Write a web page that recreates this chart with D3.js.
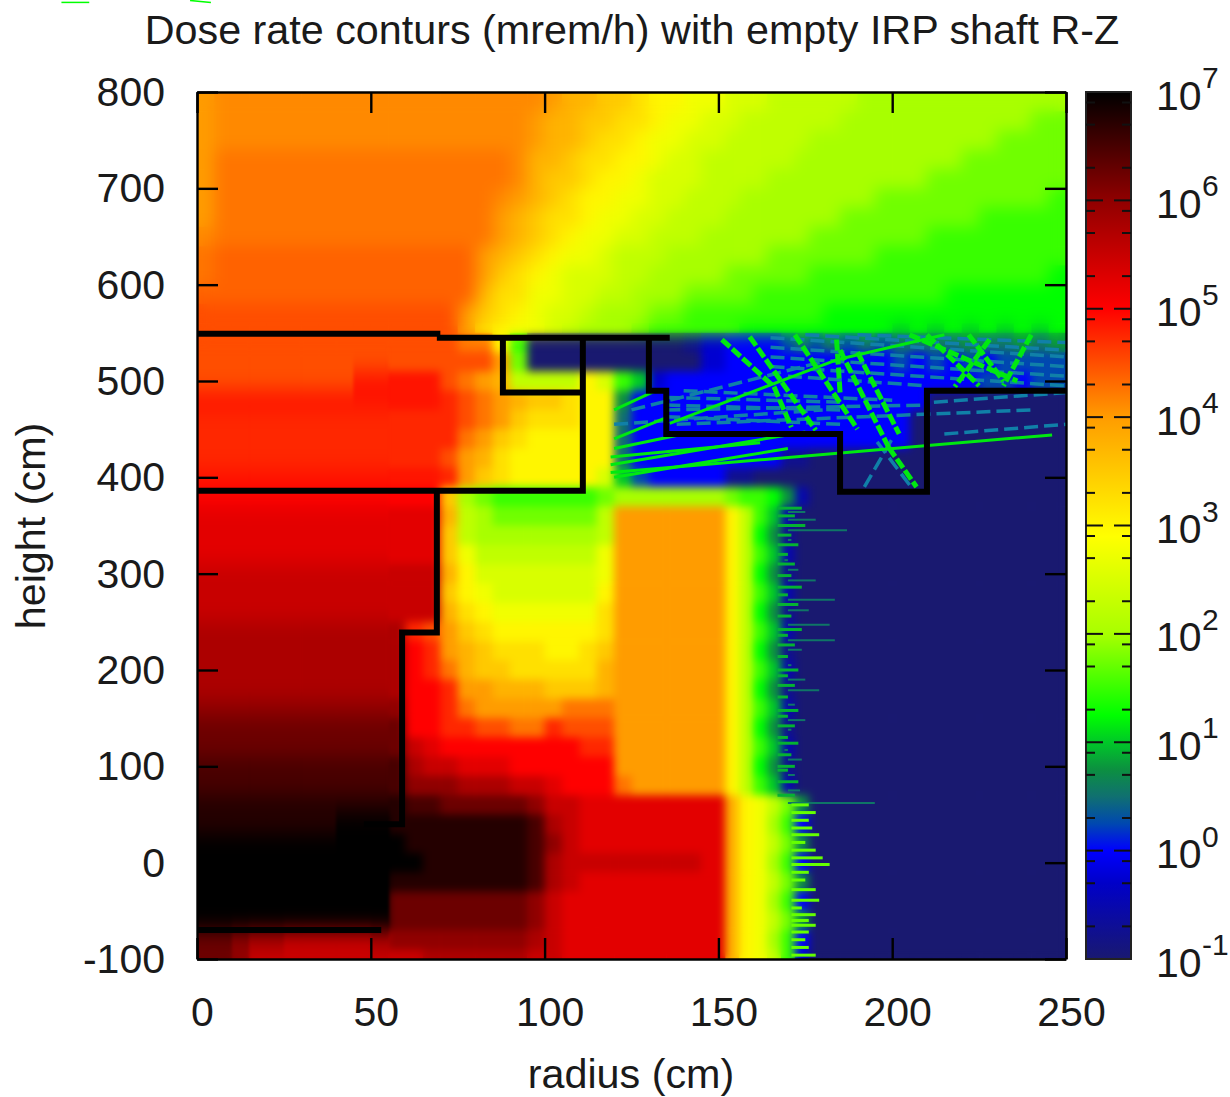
<!DOCTYPE html>
<html><head><meta charset="utf-8">
<script src="https://cdn.jsdelivr.net/npm/d3@7"></script>
<style>html,body{margin:0;padding:0;background:#fff}svg{display:block}text{font-family:"Liberation Sans",Arial,sans-serif;fill:#1a1a1a}</style>
</head><body><div id="chart"></div>
<script>
const chartTitle = "Dose rate conturs (mrem/h) with empty IRP shaft R-Z";
const xTicks = [0, 50, 100, 150, 200, 250];
const yTicks = [-100, 0, 100, 200, 300, 400, 500, 600, 700, 800];
const decadeExponents = [-1, 0, 1, 2, 3, 4, 5, 6, 7];
const minorMultipliers = [2, 5, 8];

const radiusEdges = [0,5,10,15,20,25,30,35,40,45,50,55,60,65,70,75,80,85,90,95,100,105,110,115,120,125,130,135,140,145,152,156,160,164,168,172,176,180,185,190,195,200,205,210,215,220,225,230,235,240,245,250];
const heightEdges = [800,780,760,740,720,700,680,660,640,620,600,580,560,550,530,510,490,470,450,430,410,390,370,350,330,310,290,270,250,230,210,190,170,150,130,110,90,70,50,30,10,-10,-30,-50,-70,-90,-100];

// one character per cell: position in levelCodes, a quarter of a decade per step from 10^-1; capitals add an eighth of a decade
const levelCodes = "0123456789abcdefghijklmnopqrstuvw";
const cellRows = [
"kKKKKKKKKK KKKKKKKKKK kjjiihggff eeeddddddc ccccccccccc",
"kKKKKKKKKK KKKKKKKKKk jjiihhgffe edddddddcc cccccccccbb",
"kKKKKKKKKK KKKKKKKKKk jjihhgffee ddddddcccc cccccccbbbb",
"klllllllll llllllllKj jihhggfeed dddddccccc cccccbbbbbb",
"klllllllll llllllllKj iihggfeeed dddccccccc cccbbbbbbbb",
"klllllllll lllllllKkj ihggffeedd dccccccccc bbbbbbbbbba",
"klllllllll lllllllkji hhgffeeddd ccccccccbb bbbbbbaaaaa",
"Klllllllll lllllllkji hgffeedddc ccccccbbbb bbbaaaaaaaa",
"lLLLLLLLLL LLLLLLkjih gffedddccc cccbbbbbbb aaaaaaaaaaa",
"lLLLLLLLLL LLLLLLkihg feeeddcccc bbbbbbaaaa aaaaaaaaaa9",
"LLLLLLLLLL LLLLLLjhhf feeddcccbb bbaaaaaaaa aaaa9999999",
"mmmmmmmmmm mmmmmkihgf eedcccbbaa aaaaaaa999 99999999999",
"mmmmmmmmmm mmmmmkhgff edcccbaaaa a999999999 98989898989",
"mmmmmmmmmm mmmmmllga0 0000000013 4444565656 56666766767",
"mmmmmmmmmm mmmmmmmkb0 0000000003 4444444444 45454545555",
"mmmmmmmmmN NNNNmlkjdd ddgea83444 4444444444 44444455455",
"NNNNNNNNNN NNNNnmlkji ihgg744444 4444444444 44400000000",
"nnnnnnnnnn nnnnnmlkih hhgg644444 4444444444 44000000000",
"nnnnnnnnnn nnnnnlkihg gggg644444 4444444444 44000000000",
"nnnnnnnnnn nnnnmkjhgg gggg644444 4444110000 00000000000",
"NNNNNNNNNN NNNNnkihgg ggge854444 1100000000 00000000000",
"oooooooooo ooooicbaaa aaabcccccc baa9720000 00000000000",
"pppppppppp ppppjdcbbb bbbdkkkkkk gda8200000 00000000000",
"pppppppppp ppppidcccc cccdkkkkkk gd97100000 00000000000",
"pppppppppp ppppifdddd dddfkkkkkk gda8200000 00000000000",
"qqqqqqqqqq qqqqjgeeee eeefkkkkkk gd97100000 00000000000",
"qqqqqqqqqq qqqqigfeee eeegkkkkkk gda8200000 00000000000",
"qqqqqqqqqq qqqqjhgfff fffhkkkkkk gd97100000 00000000000",
"rrrrrrrrrr rrnmkihggg ggghkkkkkk gda8200000 00000000000",
"rrrrrrrrrr rronkjihhh gghikkkkkk gd97100000 00000000000",
"rrrrrrrrrr rronljiihh hhhjkkkkkk gda8200000 00000000000",
"rrrrrrrrrr rroonkkjjj iiijkkkkkk gd97100000 00000000000",
"ssssssssss ssoonlkkkk klllkkkkkk gda8200000 00000000000",
"tttttttttt ttoonnmmll nmmmkkkkkk gd97100000 00000000000",
"tttttttttt ttqpoooooo oonnkkkkkk gda8200000 00000000000",
"uuuuuuuuuu uurqqpppoo ooookkkkkk gd97100000 00000000000",
"uuuuuuuuuu uusssrrrqq pooolkkkkk gda8200000 00000000000",
"vvvvvvvvvv vvuuttttts qqpppppppp jgfdb70000 00000000000",
"vvvvvvvvww wvvvvvvvvu rqpppppppp jgfca40000 00000000000",
"wwwwwwwwww wwvvvvvvvu sqpppppppp jgfdb70000 00000000000",
"wwwwwwwwww wwwvvvvvvu rqqqqqqqqp jgfca40000 00000000000",
"wwwwwwwwww wvvvvvvvvu rqpppppppp jgfdb70000 00000000000",
"wwwwwwwwww wtttttttts qppppppppp jgfca40000 00000000000",
"wwwwwwwwww wtttttttts qppppppppp jgfdb70000 00000000000",
"ttsrrqqqqq rssssssssr qppppppppp jgfca40000 00000000000",
"ttsqqqqqqq qqqrrrrrrq qppppppppp jgfda30000 00000000000"
];

// streaks: [r1, z1, r2, z2]
const steepRays = [[151,543,166,494],[166,494,171,452],[159,546,178,449],[184,543,185,488],[185,532,199,431],[199,431,207,390],[190,530,202,445],[228,543,218,494],[205,548,236,500],[222,548,232,500],[172,548,190,450],[240,548,232,495],[210,548,225,495]];
const thinGreenRays = [[136,456,184,522],[184,522,215,548],[119,405,246,444],[119,421,162,436],[119,413,175,447],[120,400,170,430],[120,430,140,445],[120,440,135,462],[120,470,132,490]];
const tealRays = [[135,470,210,475],[140,490,200,480],[138,455,240,470],[212,478,250,488],[192,390,200,440],[205,392,195,440],[215,445,250,455],[120,455,180,470],[125,470,180,520],[135,483,185,478],[135,475,185,470],[135,463,185,455],[165,545,250,525],[165,535,250,515],[165,525,250,505],[165,515,250,495],[170,505,210,495],[175,548,250,532],[190,548,250,540]];
const strayMarks = [[-39,893,-31,893],[-2,895,4,893]];
// jagged edge: [height, radius reached]
const tealSpikes = [[364,175],[356,178],[345,187],[335,171],[314,169],[304,173],[293,178],[273,183.5],[262,176],[247,182],[231,183.5],[221,174],[205,171],[190,175],[179,179],[164,172],[148,175],[138,171],[117,169],[107,174],[91,172],[75,173.5],[62,195]];
const edgeFringe = [[368,174],[360,172],[350,175],[340,171],[330,173],[320,170],[310,172],[298,171],[286,174],[278,170],[268,173],[256,171],[242,174],[236,170],[226,172],[214,170],[200,173],[194,170],[184,172],[172,170],[158,173],[152,170],[142,172],[130,170],[124,173],[112,171],[100,172],[96,170],[84,173],[70,172]];
const greenSpikes = [[60,176],[52,178],[44,176],[36,177],[29,179],[21,175],[13,178],[5,180],[-2,182],[-10,176],[-18,175],[-28,178],[-39,179],[-47,174],[-54,178],[-60,176],[-65,178],[-72,176],[-80,175],[-88,176],[-96,178]];

// wall outlines: [r, z] vertices
const wallTop = [[0,549],[70,549]];
const wallTop2 = [[69,545],[136,545]];
const wallInner = [[0,386],[111,386],[111,545]];
const wallPocket = [[88,545],[88,488],[111,488]];
const wallOuter = [[130,545],[130,490],[135,490],[135,445],[185,445],[185,385],[210,385],[210,490],[250,490]];
const wallCore = [[69,386],[69,239],[59,239],[59,40],[48,40]];
const wallBase = [[0,-70],[53,-70]];

const colorStops = [[-1,"#191970"],[-0.3,"#0000c8"],[0,"#0000ff"],[0.25,"#0048b0"],[0.5,"#107070"],[0.75,"#0c9040"],[1,"#00c828"],[1.25,"#00ff00"],[2,"#a8ff00"],[2.9,"#ffff00"],[4,"#ff9c00"],[5,"#ff0000"],[6,"#900000"],[7,"#000000"]];

const W = 1230, H = 1097, L = 197, R = 1066, T = 92, B = 959;
const FONT = 41;
const x = d3.scaleLinear().domain([0,250]).range([L,R]);
const y = d3.scaleLinear().domain([-100,800]).range([B,T]);
const colorOf = d3.scaleLinear().domain(colorStops.map(d=>d[0])).range(colorStops.map(d=>d[1])).interpolate(d3.interpolateRgb);
const levelValue = c => -1 + levelCodes.indexOf(c.toLowerCase()) * 0.25 + (c !== c.toLowerCase() ? 0.125 : 0);
const cells = [];
cellRows.forEach((row,j)=>{ row.replace(/ /g,"").split("").forEach((c,i)=>{ cells.push({i,j,v:levelValue(c)}); }); });

const svg = d3.select("#chart").append("svg").attr("width",W).attr("height",H);
const defs = svg.append("defs");
defs.append("clipPath").attr("id","plot").append("rect").attr("x",L).attr("y",T).attr("width",R-L).attr("height",B-T);
function blur(id,dev){
  defs.append("filter").attr("id",id).attr("filterUnits","userSpaceOnUse").attr("x",L-60).attr("y",T-60).attr("width",R-L+120).attr("height",B-T+120)
    .attr("color-interpolation-filters","sRGB").append("feGaussianBlur").attr("stdDeviation",dev);
}
blur("softMid","4"); blur("softTop","8"); blur("softLeft","1.5 10");
const lg = defs.append("linearGradient").attr("id","bar").attr("x1",0).attr("x2",0).attr("y1",1).attr("y2",0);
colorStops.forEach(s=>lg.append("stop").attr("offset",(s[0]+1)/8).attr("stop-color",s[1]));

const plot = svg.append("g").attr("clip-path","url(#plot)");
function drawCells(g,subset){
  g.selectAll("rect").data(subset).join("rect")
   .attr("x",d=>x(radiusEdges[d.i])).attr("width",d=>x(radiusEdges[d.i+1])-x(radiusEdges[d.i])+0.6)
   .attr("y",d=>y(heightEdges[d.j])).attr("height",d=>y(heightEdges[d.j+1])-y(heightEdges[d.j])+0.6)
   .attr("fill",d=>colorOf(d.v));
}
const isTop = d => d.j < 13, isLeft = d => d.j >= 13 && d.i < 11;
drawCells(plot.append("g"),cells);
drawCells(plot.append("g").attr("filter","url(#softMid)"),cells.filter(d=>!isTop(d)));
drawCells(plot.append("g").attr("filter","url(#softLeft)"),cells.filter(isLeft));
drawCells(plot.append("g").attr("filter","url(#softTop)"),cells.filter(isTop));

const rayG = plot.append("g").attr("fill","none");
function rays(cls,data,color,width,dash){
  rayG.selectAll("line."+cls).data(data).join("line").attr("class",cls)
    .attr("x1",d=>x(d[0])).attr("y1",d=>y(d[1])).attr("x2",d=>x(d[2])).attr("y2",d=>y(d[3]))
    .attr("stroke",color).attr("stroke-width",width).attr("stroke-dasharray",dash);
}
rays("t",tealRays,"#1080a8",3.5,"14 6");
rays("g",thinGreenRays,colorOf(1.15),3,null);
rays("s",steepRays,colorOf(1.15),5,"11 3");
function spikes(cls,data,from,color,width){
  rayG.selectAll("line."+cls).data(data).join("line").attr("class",cls)
    .attr("x1",x(from)).attr("x2",d=>x(d[1])).attr("y1",d=>y(d[0])).attr("y2",d=>y(d[0]))
    .attr("stroke",color).attr("stroke-width",width);
}
spikes("fr",edgeFringe,167,colorOf(0.9),3);
spikes("ts",tealSpikes,170,colorOf(0.55),2);
spikes("gs",greenSpikes,171,colorOf(1.7),3);
svg.append("g").selectAll("line").data(strayMarks).join("line")
  .attr("x1",d=>x(d[0])).attr("y1",d=>y(d[1])).attr("x2",d=>x(d[2])).attr("y2",d=>y(d[3]))
  .attr("stroke",colorOf(1.25)).attr("stroke-width",1.5);

const wallLine = d3.line().x(d=>x(d[0])).y(d=>y(d[1]));
svg.append("g").attr("fill","none").attr("stroke","#000").attr("stroke-width",6).attr("stroke-linejoin","miter")
  .selectAll("path").data([wallTop,wallTop2,wallInner,wallPocket,wallOuter,wallCore,wallBase]).join("path").attr("d",wallLine);

function styleAxis(g,size){
  g.selectAll("path.domain").attr("stroke","#000").attr("stroke-width",2.4);
  g.selectAll(".tick line").attr("stroke","#000").attr("stroke-width",2.4);
  g.selectAll(".tick text").attr("font-size",size).attr("fill","#1a1a1a").attr("font-family","Liberation Sans");
}
const TL = -21;
const axB = svg.append("g").attr("transform",`translate(0,${B})`).call(d3.axisBottom(x).tickValues(xTicks).tickSizeInner(TL).tickSizeOuter(0).tickPadding(40));
styleAxis(axB,FONT); axB.selectAll(".tick text").attr("dx",5).attr("dy",0).attr("y",67);
const axT = svg.append("g").attr("transform",`translate(0,${T})`).call(d3.axisTop(x).tickValues(xTicks).tickSizeInner(TL).tickSizeOuter(0).tickFormat(""));
styleAxis(axT,FONT);
const axL = svg.append("g").attr("transform",`translate(${L},0)`).call(d3.axisLeft(y).tickValues(yTicks).tickSizeInner(TL).tickSizeOuter(0).tickPadding(32).tickFormat(d=>String(d)));
styleAxis(axL,FONT); axL.selectAll(".tick text").attr("dy","0.33em");
const axR = svg.append("g").attr("transform",`translate(${R},0)`).call(d3.axisRight(y).tickValues(yTicks).tickSizeInner(TL).tickSizeOuter(0).tickFormat(""));
styleAxis(axR,FONT);

svg.append("text").attr("x",632).attr("y",44).attr("text-anchor","middle").attr("font-size",41.3).text(chartTitle);
svg.append("text").attr("x",631).attr("y",1088).attr("text-anchor","middle").attr("font-size",41.3).text("radius (cm)");
svg.append("text").attr("transform","translate(45,526) rotate(-90)").attr("text-anchor","middle").attr("font-size",41.3).text("height (cm)");

// colour bar
const barL = 1086, barR = 1131;
const c = d3.scaleLog().domain([0.1,1e7]).range([B,T]);
svg.append("rect").attr("x",barL).attr("y",T).attr("width",barR-barL).attr("height",B-T).attr("fill","url(#bar)").attr("stroke","#222").attr("stroke-width",2);
const minors = [];
decadeExponents.slice(0,-1).forEach(e=>minorMultipliers.forEach(m=>minors.push(m*Math.pow(10,e))));
const barTicks = svg.append("g").attr("stroke","#111").attr("stroke-width",2);
[[minors,9],[decadeExponents.slice(1,-1).map(e=>Math.pow(10,e)),17]].forEach(([vals,len])=>{
  barTicks.selectAll(null).data(vals).join("line").attr("x1",barL).attr("x2",barL+len).attr("y1",d=>c(d)).attr("y2",d=>c(d));
  barTicks.selectAll(null).data(vals).join("line").attr("x1",barR-len).attr("x2",barR).attr("y1",d=>c(d)).attr("y2",d=>c(d));
});
const lab = svg.append("g").selectAll("g").data(decadeExponents).join("g");
lab.append("text").attr("x",1156).attr("y",d=>c(Math.pow(10,d))+17.5).attr("font-size",FONT).text("10");
lab.append("text").attr("x",1202).attr("y",d=>c(Math.pow(10,d))-4).attr("font-size",30).text(d=>d<0?"-"+(-d):d);
</script>
</body></html>
